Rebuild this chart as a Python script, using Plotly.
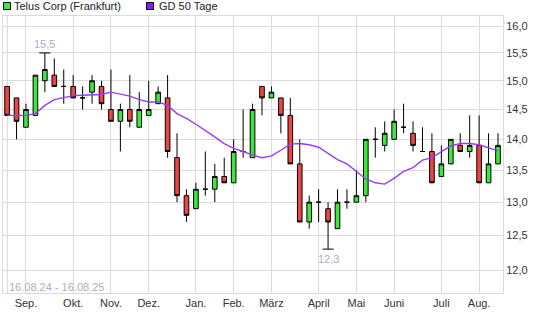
import numpy as np
import plotly.graph_objects as go

# ---- data (weekly candles, 16.08.24 - 16.08.25) ----
week_idx = list(range(53))
opens = [14.9, 14.7, 14.2, 14.4, 15.0, 15.1, 14.9, 14.9, 14.7, 14.8,
         14.9, 14.5, 14.3, 14.5, 14.2, 14.4, 14.6, 14.7, 13.7, 13.1,
         12.9, 13.2, 13.2, 13.4, 13.3, 13.8, 13.7, 14.9, 14.7, 14.7,
         14.4, 13.6, 12.7, 13.0, 12.9, 12.6, 13.0, 13.0, 13.1, 14.0,
         13.9, 14.0, 14.2, 14.1, 13.8, 13.8, 13.4, 13.6, 13.9, 13.8,
         13.9, 13.3, 13.6]
highs = [14.9, 14.7, 14.6, 15.1, 15.5, 15.4, 15.2, 15.1, 14.9, 15.1,
         15.0, 15.2, 14.6, 15.1, 14.8, 15.0, 14.9, 15.1, 14.1, 13.2,
         13.3, 13.8, 13.6, 13.7, 14.0, 14.5, 14.6, 14.9, 14.9, 14.7,
         14.7, 14.0, 13.1, 13.2, 13.0, 13.2, 13.2, 13.5, 14.0, 14.2,
         14.3, 14.5, 14.6, 14.3, 14.2, 14.1, 13.9, 14.0, 14.1, 14.4,
         14.4, 14.1, 14.1]
lows = [14.4, 14.0, 14.2, 14.4, 14.8, 14.9, 14.6, 14.7, 14.5, 14.6,
        14.5, 14.3, 13.8, 14.2, 14.2, 14.4, 14.6, 13.7, 13.0, 12.7,
        12.9, 13.1, 13.0, 13.3, 13.3, 13.7, 13.7, 14.4, 14.7, 14.1,
        13.6, 12.7, 12.6, 12.7, 12.3, 12.6, 12.9, 13.0, 13.0, 13.7,
        13.8, 14.0, 14.1, 13.8, 13.8, 13.3, 13.4, 13.6, 13.8, 13.7,
        13.3, 13.3, 13.6]
closes = [14.4, 14.3, 14.5, 15.1, 15.2, 14.9, 14.9, 14.7, 14.7, 15.0,
          14.6, 14.3, 14.5, 14.3, 14.5, 14.5, 14.8, 13.8, 13.1, 12.8,
          13.2, 13.2, 13.4, 13.3, 13.8, 13.8, 14.5, 14.7, 14.8, 14.4,
          13.6, 12.7, 13.0, 13.0, 12.7, 13.0, 13.0, 13.1, 14.0, 14.0,
          14.1, 14.3, 14.2, 13.9, 13.8, 13.3, 13.6, 14.0, 13.8, 13.9,
          13.3, 13.6, 13.9]
gd50 = [14.40, 14.40, 14.40, 14.43, 14.57, 14.67, 14.71, 14.74, 14.745, 14.755,
        14.76, 14.80, 14.77, 14.73, 14.67, 14.63, 14.63, 14.57, 14.43, 14.35,
        14.25, 14.15, 14.04, 13.93, 13.85, 13.80, 13.74, 13.70, 13.73, 13.82,
        13.92, 13.93, 13.91, 13.87, 13.77, 13.67, 13.60, 13.48, 13.36, 13.30,
        13.28, 13.37, 13.48, 13.54, 13.66, 13.70, 13.80, 13.89, 13.93, 13.93,
        13.91, 13.86, 13.81]

month_idx = [0, 2, 7, 11, 15, 20, 24, 28, 33, 37, 41, 46, 50]
month_labels = ["", "Sep.", "Okt.", "Nov.", "Dez.", "Jan.", "Feb.", "März",
                "April", "Mai", "Juni", "Juli", "Aug."]
y_ticks = [12.0, 12.5, 13.0, 13.5, 14.0, 14.5, 15.0, 15.5, 16.0]
y_tick_labels = [f"{v:.1f}".replace(".", ",") for v in y_ticks]
date_range = "16.08.24 - 16.08.25"
name_stock = "Telus Corp (Frankfurt)"
name_ma = "GD 50 Tage"

GREEN = "#3de83d"
RED = "#ee4444"
PURPLE = "#9b3cf5"
FONT = "Liberation Sans, Arial, sans-serif"
GRID = "#dadada"

W, H = 545, 327
L, R, T, B = 3, 42, 16, 34
pw, ph = W - L - R, H - T - B

fig = go.Figure()
fig.add_trace(go.Scatter(x=week_idx, y=gd50, mode="lines",
                         line=dict(color=PURPLE, width=1.4),
                         showlegend=False, hoverinfo="skip", name=name_ma))
fig.add_trace(go.Candlestick(
    x=week_idx, open=opens, high=highs, low=lows, close=closes,
    increasing=dict(fillcolor=GREEN, line=dict(color="black", width=1)),
    decreasing=dict(fillcolor=RED, line=dict(color="black", width=1)),
    whiskerwidth=0, showlegend=False, hoverinfo="skip", name=name_stock))

imax = int(np.argmax(highs))
imin = int(np.argmin(lows))
fig.add_trace(go.Scatter(
    x=[week_idx[imax], week_idx[imin]], y=[highs[imax], lows[imin]],
    mode="markers", marker=dict(symbol="line-ew-open", size=8, color="black",
                                line=dict(color="black", width=1)),
    showlegend=False, hoverinfo="skip"))

ann = []
ann.append(dict(x=week_idx[imax], y=np.log10(highs[imax]), xref="x", yref="y",
                text=f"{highs[imax]:.1f}".replace(".", ","), showarrow=False,
                yanchor="bottom", yshift=1,
                font=dict(family=FONT, size=11, color="#a6b0c3")))
ann.append(dict(x=week_idx[imin], y=np.log10(lows[imin]), xref="x", yref="y",
                text=f"{lows[imin]:.1f}".replace(".", ","), showarrow=False,
                yanchor="top", yshift=-2,
                font=dict(family=FONT, size=11, color="#a6b0c3")))

def px_x(p):
    return (p - L) / pw

def px_y(p):
    return (H - B - p) / ph

ann.append(dict(x=px_x(7), y=px_y(287), xref="paper", yref="paper",
                text=date_range, showarrow=False, xanchor="left", yanchor="middle",
                font=dict(family=FONT, size=11, color="#a6b0c3")))
ann.append(dict(x=px_x(12), y=px_y(6.3), xref="paper", yref="paper",
                text=name_stock, showarrow=False, xanchor="left", yanchor="middle",
                font=dict(family=FONT, size=11, color="#222")))
ann.append(dict(x=px_x(157), y=px_y(6.3), xref="paper", yref="paper",
                text=name_ma, showarrow=False, xanchor="left", yanchor="middle",
                font=dict(family=FONT, size=11, color="#222")))

shapes = [
    dict(type="rect", xref="paper", yref="paper", x0=px_x(3.5), x1=px_x(10.5),
         y0=px_y(9.5), y1=px_y(2.5), fillcolor=GREEN, line=dict(color="black", width=1)),
    dict(type="rect", xref="paper", yref="paper", x0=px_x(146.5), x1=px_x(153.5),
         y0=px_y(9.5), y1=px_y(2.5), fillcolor="#8a1cf0", line=dict(color="black", width=1)),
]

fig.update_layout(
    width=W, height=H, margin=dict(l=L, r=R, t=T, b=B),
    paper_bgcolor="white", plot_bgcolor="white",
    annotations=ann, shapes=shapes, showlegend=False,
    font=dict(family=FONT, size=11, color="#333"),
    xaxis=dict(range=[-0.434, 52.53], tickmode="array", tickvals=month_idx,
               ticktext=month_labels, showgrid=True, gridcolor=GRID, gridwidth=1,
               zeroline=False, showline=True, linecolor=GRID, mirror=True,
               ticks="", rangeslider=dict(visible=False),
               tickfont=dict(family=FONT, size=11, color="#333")),
    yaxis=dict(type="log", side="right",
               range=[np.log10(11.68), np.log10(16.19)],
               tickmode="array", tickvals=y_ticks, ticktext=y_tick_labels,
               showgrid=True, gridcolor=GRID, gridwidth=1, zeroline=False,
               showline=True, linecolor=GRID, mirror=True, ticks="",
               tickfont=dict(family=FONT, size=11, color="#333")),
)

fig.write_html("out.html")
